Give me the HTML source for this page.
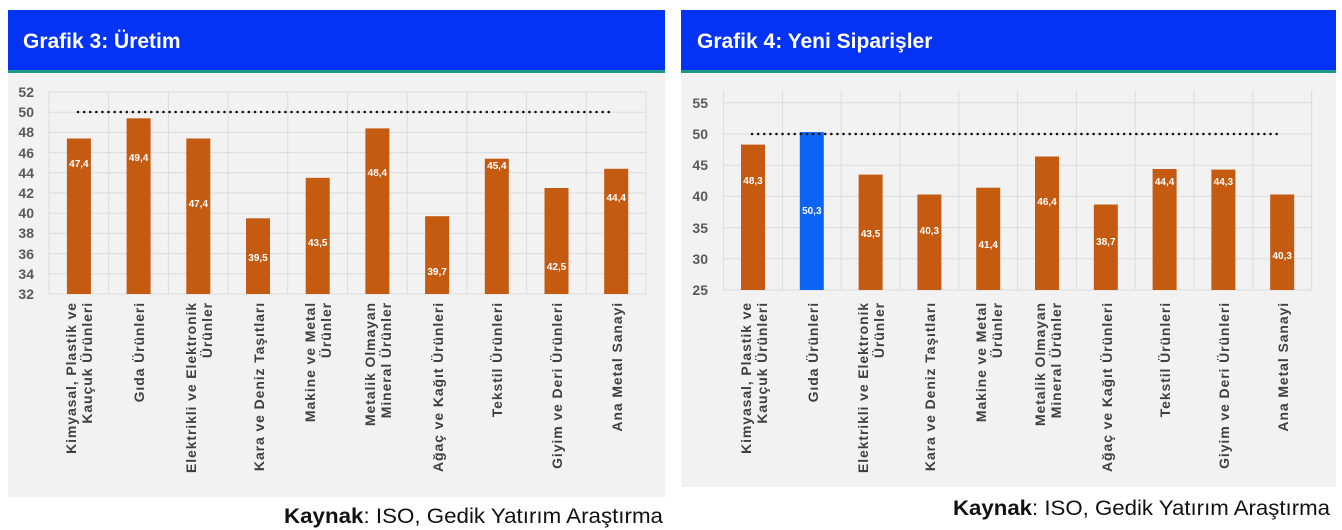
<!DOCTYPE html>
<html><head><meta charset="utf-8"><style>
html,body{margin:0;padding:0;background:#fff;}
svg{display:block;font-family:"Liberation Sans",sans-serif;}
.yl{font-size:14px;font-weight:bold;fill:#595959;text-anchor:end;}
.cl{font-size:14px;font-weight:bold;fill:#404040;text-anchor:end;letter-spacing:0.9px;}
.vl{font-size:10px;font-weight:bold;fill:#fff;text-anchor:middle;}
.g{stroke:#dcdcdc;stroke-width:1;}
.b{fill:#c55a11;}
.t{font-size:21px;font-weight:bold;fill:#fff;}
.k{font-size:21px;fill:#111;}
</style></head><body>
<svg width="1342" height="530" viewBox="0 0 1342 530">
<!-- Chart 1 -->
<rect x="8" y="10" width="657" height="61" fill="#0433f5"/>
<rect x="8" y="70" width="657" height="3" fill="#1b9a8a"/>
<text class="t" x="23" y="48">Grafik 3: Üretim</text>
<rect x="8" y="74" width="657" height="423" fill="#f2f2f2"/>
<g class="g">
<line x1="49" y1="92" x2="646" y2="92"/><line x1="49" y1="112.2" x2="646" y2="112.2"/><line x1="49" y1="132.4" x2="646" y2="132.4"/><line x1="49" y1="152.6" x2="646" y2="152.6"/><line x1="49" y1="172.8" x2="646" y2="172.8"/><line x1="49" y1="193" x2="646" y2="193"/><line x1="49" y1="213.2" x2="646" y2="213.2"/><line x1="49" y1="233.4" x2="646" y2="233.4"/><line x1="49" y1="253.6" x2="646" y2="253.6"/><line x1="49" y1="273.8" x2="646" y2="273.8"/><line x1="49" y1="294" x2="646" y2="294"/>
<line x1="49" y1="92" x2="49" y2="294"/><line x1="108.7" y1="92" x2="108.7" y2="294"/><line x1="168.4" y1="92" x2="168.4" y2="294"/><line x1="228.1" y1="92" x2="228.1" y2="294"/><line x1="287.8" y1="92" x2="287.8" y2="294"/><line x1="347.5" y1="92" x2="347.5" y2="294"/><line x1="407.2" y1="92" x2="407.2" y2="294"/><line x1="466.9" y1="92" x2="466.9" y2="294"/><line x1="526.6" y1="92" x2="526.6" y2="294"/><line x1="586.3" y1="92" x2="586.3" y2="294"/><line x1="646" y1="92" x2="646" y2="294"/>
</g>
<g>
<text class="yl" x="34" y="97">52</text><text class="yl" x="34" y="117">50</text><text class="yl" x="34" y="137">48</text><text class="yl" x="34" y="158">46</text><text class="yl" x="34" y="178">44</text><text class="yl" x="34" y="198">42</text><text class="yl" x="34" y="218">40</text><text class="yl" x="34" y="238">38</text><text class="yl" x="34" y="259">36</text><text class="yl" x="34" y="279">34</text><text class="yl" x="34" y="299">32</text>
</g>
<rect class="b" x="66.9" y="138.5" width="24" height="155.5"/>
<rect class="b" x="126.6" y="118.3" width="24" height="175.7"/>
<rect class="b" x="186.3" y="138.5" width="24" height="155.5"/>
<rect class="b" x="246" y="218.3" width="24" height="75.7"/>
<rect class="b" x="305.7" y="177.8" width="24" height="116.2"/>
<rect class="b" x="365.4" y="128.4" width="24" height="165.6"/>
<rect class="b" x="425.1" y="216.2" width="24" height="77.8"/>
<rect class="b" x="484.8" y="158.7" width="24" height="135.3"/>
<rect class="b" x="544.5" y="188" width="24" height="106"/>
<rect class="b" x="604.2" y="168.8" width="24" height="125.2"/>
<line x1="78" y1="112" x2="612" y2="112" stroke="#111" stroke-width="2.5" stroke-dasharray="0.1 6" stroke-linecap="round"/>
<text class="vl" x="78.9" y="167">47,4</text>
<text class="vl" x="138.6" y="161">49,4</text>
<text class="vl" x="198.3" y="207">47,4</text>
<text class="vl" x="258" y="261">39,5</text>
<text class="vl" x="317.7" y="246">43,5</text>
<text class="vl" x="377.4" y="176">48,4</text>
<text class="vl" x="437.1" y="275">39,7</text>
<text class="vl" x="496.8" y="169">45,4</text>
<text class="vl" x="556.5" y="270">42,5</text>
<text class="vl" x="616.2" y="201">44,4</text>
<g>
<text class="cl" transform="translate(76,302) rotate(-90)">Kimyasal, Plastik ve<tspan x="0" dy="16">Kauçuk Ürünleri</tspan></text>
<text class="cl" transform="translate(144,302) rotate(-90)">Gıda Ürünleri</text>
<text class="cl" transform="translate(196,302) rotate(-90)">Elektrikli ve Elektronik<tspan x="0" dy="16">Ürünler</tspan></text>
<text class="cl" transform="translate(264,302) rotate(-90)">Kara ve Deniz Taşıtları</text>
<text class="cl" transform="translate(315,302) rotate(-90)">Makine ve Metal<tspan x="0" dy="16">Ürünler</tspan></text>
<text class="cl" transform="translate(375,302) rotate(-90)">Metalik Olmayan<tspan x="0" dy="16">Mineral Ürünler</tspan></text>
<text class="cl" transform="translate(443,302) rotate(-90)">Ağaç ve Kağıt Ürünleri</text>
<text class="cl" transform="translate(502,302) rotate(-90)">Tekstil Ürünleri</text>
<text class="cl" transform="translate(562,302) rotate(-90)">Giyim ve Deri Ürünleri</text>
<text class="cl" transform="translate(622,302) rotate(-90)">Ana Metal Sanayi</text>
</g>
<text class="k" x="284" y="523" textLength="379" lengthAdjust="spacingAndGlyphs"><tspan font-weight="bold">Kaynak</tspan>: ISO, Gedik Yatırım Araştırma</text>

<!-- Chart 2 -->
<rect x="681" y="10" width="655" height="61" fill="#0433f5"/>
<rect x="681" y="70" width="655" height="3" fill="#1b9a8a"/>
<text class="t" x="697" y="48">Grafik 4: Yeni Siparişler</text>
<rect x="681" y="74" width="655" height="413" fill="#f2f2f2"/>
<g class="g">
<line x1="723.6" y1="102.8" x2="1311.6" y2="102.8"/><line x1="723.6" y1="134" x2="1311.6" y2="134"/><line x1="723.6" y1="165.2" x2="1311.6" y2="165.2"/><line x1="723.6" y1="196.4" x2="1311.6" y2="196.4"/><line x1="723.6" y1="227.6" x2="1311.6" y2="227.6"/><line x1="723.6" y1="258.8" x2="1311.6" y2="258.8"/><line x1="723.6" y1="290" x2="1311.6" y2="290"/>
<line x1="723.6" y1="90" x2="723.6" y2="290"/><line x1="782.4" y1="90" x2="782.4" y2="290"/><line x1="841.2" y1="90" x2="841.2" y2="290"/><line x1="900" y1="90" x2="900" y2="290"/><line x1="958.8" y1="90" x2="958.8" y2="290"/><line x1="1017.6" y1="90" x2="1017.6" y2="290"/><line x1="1076.4" y1="90" x2="1076.4" y2="290"/><line x1="1135.2" y1="90" x2="1135.2" y2="290"/><line x1="1194" y1="90" x2="1194" y2="290"/><line x1="1252.8" y1="90" x2="1252.8" y2="290"/><line x1="1311.6" y1="90" x2="1311.6" y2="290"/>
</g>
<g>
<text class="yl" x="708" y="108">55</text><text class="yl" x="708" y="139">50</text><text class="yl" x="708" y="170">45</text><text class="yl" x="708" y="201">40</text><text class="yl" x="708" y="233">35</text><text class="yl" x="708" y="264">30</text><text class="yl" x="708" y="295">25</text>
</g>
<rect class="b" x="741" y="144.6" width="24" height="145.4"/>
<rect x="799.8" y="132.1" width="24" height="157.9" fill="#0a64f5"/>
<rect class="b" x="858.6" y="174.6" width="24" height="115.4"/>
<rect class="b" x="917.4" y="194.5" width="24" height="95.5"/>
<rect class="b" x="976.2" y="187.7" width="24" height="102.3"/>
<rect class="b" x="1035" y="156.5" width="24" height="133.5"/>
<rect class="b" x="1093.8" y="204.5" width="24" height="85.5"/>
<rect class="b" x="1152.6" y="169" width="24" height="121"/>
<rect class="b" x="1211.4" y="169.6" width="24" height="120.4"/>
<rect class="b" x="1270.2" y="194.5" width="24" height="95.5"/>
<line x1="752" y1="134" x2="1280" y2="134" stroke="#111" stroke-width="2.5" stroke-dasharray="0.1 6" stroke-linecap="round"/>
<text class="vl" x="753" y="184">48,3</text>
<text class="vl" x="811.8" y="214">50,3</text>
<text class="vl" x="870.6" y="237">43,5</text>
<text class="vl" x="929.4" y="234">40,3</text>
<text class="vl" x="988.2" y="248">41,4</text>
<text class="vl" x="1047" y="205">46,4</text>
<text class="vl" x="1105.8" y="245">38,7</text>
<text class="vl" x="1164.6" y="185">44,4</text>
<text class="vl" x="1223.4" y="185">44,3</text>
<text class="vl" x="1282.2" y="259">40,3</text>
<g>
<text class="cl" transform="translate(751,302) rotate(-90)">Kimyasal, Plastik ve<tspan x="0" dy="16">Kauçuk Ürünleri</tspan></text>
<text class="cl" transform="translate(818,302) rotate(-90)">Gıda Ürünleri</text>
<text class="cl" transform="translate(868,302) rotate(-90)">Elektrikli ve Elektronik<tspan x="0" dy="16">Ürünler</tspan></text>
<text class="cl" transform="translate(935,302) rotate(-90)">Kara ve Deniz Taşıtları</text>
<text class="cl" transform="translate(986,302) rotate(-90)">Makine ve Metal<tspan x="0" dy="16">Ürünler</tspan></text>
<text class="cl" transform="translate(1045,302) rotate(-90)">Metalik Olmayan<tspan x="0" dy="16">Mineral Ürünler</tspan></text>
<text class="cl" transform="translate(1112,302) rotate(-90)">Ağaç ve Kağıt Ürünleri</text>
<text class="cl" transform="translate(1170,302) rotate(-90)">Tekstil Ürünleri</text>
<text class="cl" transform="translate(1229,302) rotate(-90)">Giyim ve Deri Ürünleri</text>
<text class="cl" transform="translate(1288,302) rotate(-90)">Ana Metal Sanayi</text>
</g>
<text class="k" x="953" y="515" textLength="377" lengthAdjust="spacingAndGlyphs"><tspan font-weight="bold">Kaynak</tspan>: ISO, Gedik Yatırım Araştırma</text>
</svg>
</body></html>
